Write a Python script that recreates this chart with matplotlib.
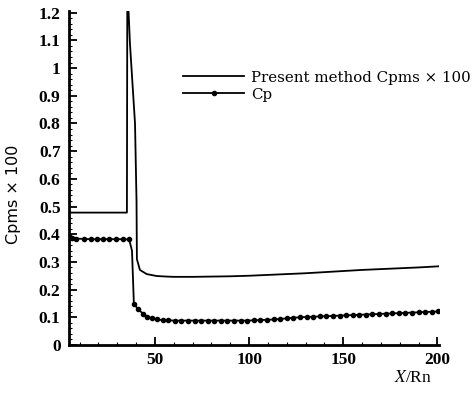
import matplotlib
matplotlib.use('Agg')
import matplotlib.pyplot as plt
from matplotlib.ticker import MultipleLocator, FixedLocator

# ==== data ====

# present method, Cpms x 100
pm_x = [4.3, 35.1, 35.3, 36.0, 36.7, 38.0, 39.4, 40.2, 40.4, 42.0, 45.6, 50.9,
        56.2, 60, 70, 80, 90, 100, 110, 120, 130, 140, 150, 160, 170, 180,
        190, 200.5]
pm_y = [0.478, 0.478, 1.25, 1.20, 1.09, 0.95, 0.80, 0.52, 0.31, 0.271, 0.256,
        0.249, 0.247, 0.246, 0.246, 0.247, 0.248, 0.250, 0.253, 0.256, 0.259,
        0.263, 0.267, 0.271, 0.274, 0.277, 0.280, 0.284]

# Cp with dots
cp_x = [4.5, 5.7, 8.3, 12.2, 15.8, 19.0, 22.5, 25.7, 29.3, 32.8, 36.3, 37.8,
        38.8, 41.0, 43.6, 46.0, 48.5, 51.0, 54.0, 57.0, 60.5, 64.0, 67.5,
        71.0, 74.5, 78.0, 81.5, 85.0, 88.5, 92.0, 95.5, 99.0, 102.5, 106.0,
        109.5, 113.0, 116.5, 120.0, 123.5, 127.0, 130.5, 134.0, 137.5, 141.0,
        144.5, 148.0, 151.5, 155.0, 158.5, 162.0, 165.5, 169.0, 172.5, 176.0,
        179.5, 183.0, 186.5, 190.0, 193.5, 197.0, 200.5]
cp_y = [0.392, 0.388, 0.384, 0.383, 0.382, 0.382, 0.382, 0.382, 0.382, 0.382,
        0.381, 0.340, 0.148, 0.130, 0.113, 0.102, 0.096, 0.092, 0.090, 0.089,
        0.088, 0.088, 0.088, 0.088, 0.088, 0.088, 0.088, 0.088, 0.088, 0.088,
        0.088, 0.088, 0.089, 0.090, 0.091, 0.092, 0.094, 0.096, 0.098, 0.100,
        0.101, 0.102, 0.103, 0.104, 0.105, 0.106, 0.107, 0.108, 0.109, 0.110,
        0.111, 0.112, 0.113, 0.114, 0.115, 0.116, 0.117, 0.118, 0.119, 0.120,
        0.121]

y_ticks = [0, 0.1, 0.2, 0.3, 0.4, 0.5, 0.6, 0.7, 0.8, 0.9, 1.0, 1.1, 1.2]
y_labels = ['0', '0.1', '0.2', '0.3', '0.4', '0.5', '0.6', '0.7', '0.8',
            '0.9', '1', '1.1', '1.2']
x_ticks = [50, 100, 150, 200]

# ==== plot ====

plt.rcParams['font.family'] = ['Liberation Serif', 'DejaVu Serif']
plt.rcParams['mathtext.fontset'] = 'stix'

fig = plt.figure(figsize=(4.72, 4.03), dpi=100)
ax = fig.add_axes([0.146, 0.144, 0.784, 0.828])

ax.plot(pm_x, pm_y, color='black', lw=1.3, label='Present method Cpms \u00d7 100')
dots = [i for i in range(len(cp_x)) if i != 11]
ax.plot(cp_x, cp_y, color='black', lw=1.3, marker='o', ms=3,
        markevery=dots, label='Cp')

ax.set_xlim(4.3, 200.8)
ax.set_ylim(0, 1.205)

for s in ['top', 'right']:
    ax.spines[s].set_visible(False)
ax.spines['left'].set_linewidth(2)
ax.spines['bottom'].set_linewidth(2)

ax.yaxis.set_major_locator(FixedLocator(y_ticks))
ax.set_yticklabels(y_labels)
ax.yaxis.set_minor_locator(MultipleLocator(0.02))
ax.xaxis.set_major_locator(FixedLocator(x_ticks))
ax.xaxis.set_minor_locator(MultipleLocator(10))
ax.tick_params(which='major', direction='in', length=6, width=1.3,
               labelsize=12.5)
ax.tick_params(which='minor', direction='in', length=2, width=0.8)
for lab in ax.get_xticklabels() + ax.get_yticklabels():
    lab.set_fontweight('semibold')
ax.tick_params(axis='y', pad=6)
ax.tick_params(axis='x', pad=5)

ax.set_ylabel('Cpms \u00d7 100', fontsize=11.5, family=['DejaVu Sans'])
ax.yaxis.set_label_coords(-0.13, 0.45)
ax.set_xlabel(r'$X$/Rn', fontsize=12.5)
ax.xaxis.set_label_coords(0.93, -0.075)

ax.legend(loc='upper left', bbox_to_anchor=(0.308, 0.822), frameon=False,
          handlelength=4.1, handletextpad=0.45, labelspacing=0.2,
          borderaxespad=0, borderpad=0,
          prop={'family': ['DejaVu Serif'], 'size': 10.8})

fig.savefig('out.png', dpi=100)
